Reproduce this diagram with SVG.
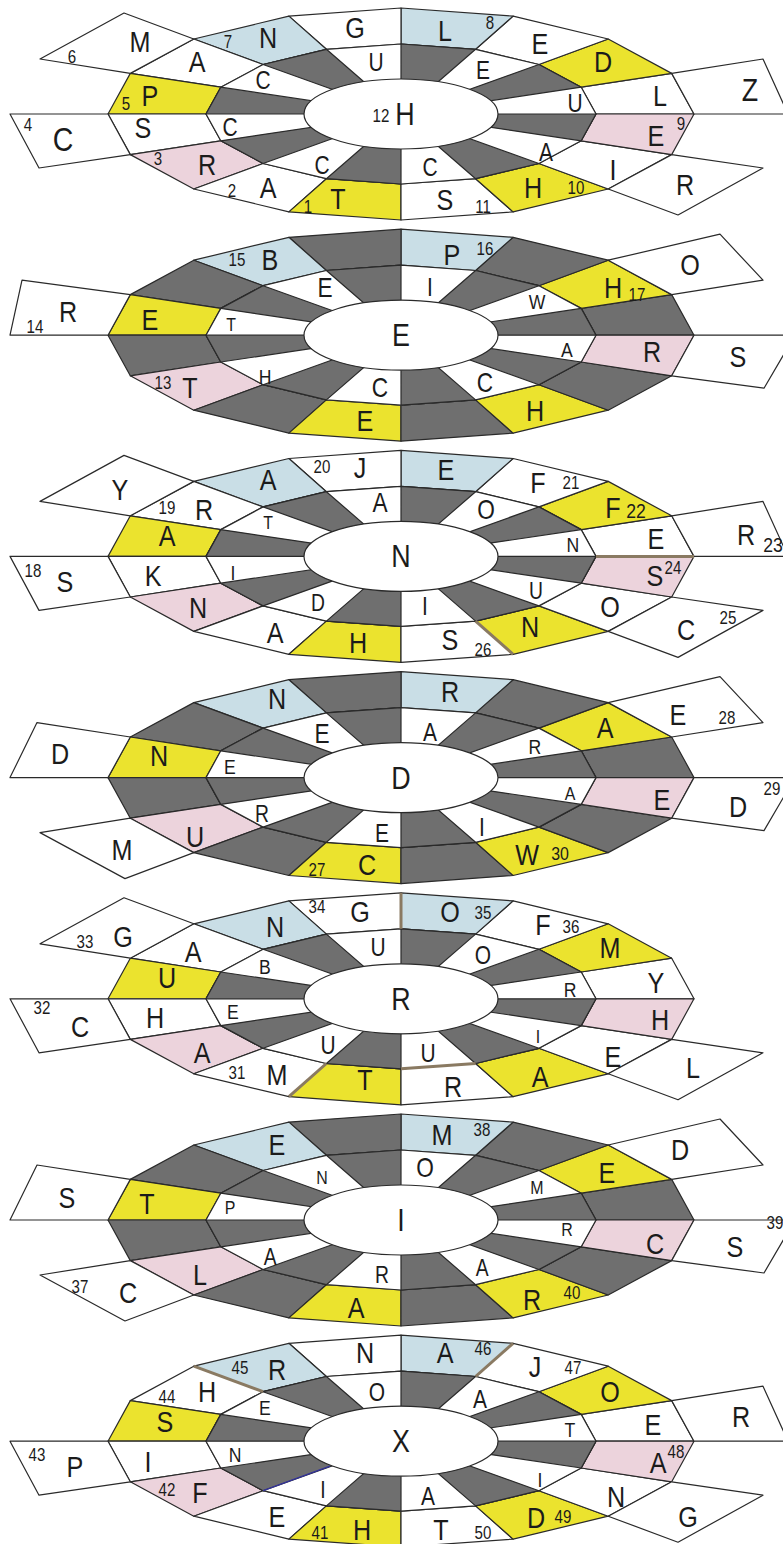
<svg xmlns="http://www.w3.org/2000/svg" xmlns:xlink="http://www.w3.org/1999/xlink" width="783" height="1544" viewBox="0 0 783 1544">
<style>
.w{fill:#ffffff}.g{fill:#6f6f6f}.y{fill:#ebe32e}.b{fill:#c9dee6}.p{fill:#ecd3dc}
.st{stroke:#2a2a2a;stroke-width:1.2;stroke-linejoin:round}
.pt{fill:#ffffff;stroke:#2a2a2a;stroke-width:1.2;stroke-linejoin:round}
.hl{stroke:#8a7a62;stroke-width:3;fill:none}
text{font-family:"Liberation Sans",Arial,sans-serif;fill:#1b1b1b;text-anchor:middle;transform-box:fill-box;transform-origin:center;transform:scaleX(0.84)}
.L{font-size:30px}.I{font-size:25px}.N{font-size:18px}.C{font-size:32px}
</style>
<defs>
<polygon id="q0" points="694,0 671.7,-40.6 581.2,-26.8 596,0"/>
<polygon id="q1" points="671.7,-40.6 608.2,-75 538.9,-49.5 581.2,-26.8"/>
<polygon id="q2" points="608.2,-75 513.1,-97.9 475.6,-64.7 538.9,-49.5"/>
<polygon id="q3" points="513.1,-97.9 401,-106 401,-70 475.6,-64.7"/>
<polygon id="q4" points="401,-106 288.9,-97.9 326.4,-64.7 401,-70"/>
<polygon id="q5" points="288.9,-97.9 193.8,-75 263.1,-49.5 326.4,-64.7"/>
<polygon id="q6" points="193.8,-75 130.3,-40.6 220.8,-26.8 263.1,-49.5"/>
<polygon id="q7" points="130.3,-40.6 108,0 206,0 220.8,-26.8"/>
<polygon id="q8" points="108,0 130.3,40.6 220.8,26.8 206,0"/>
<polygon id="q9" points="130.3,40.6 193.8,75 263.1,49.5 220.8,26.8"/>
<polygon id="q10" points="193.8,75 288.9,97.9 326.4,64.7 263.1,49.5"/>
<polygon id="q11" points="288.9,97.9 401,106 401,70 326.4,64.7"/>
<polygon id="q12" points="401,106 513.1,97.9 475.6,64.7 401,70"/>
<polygon id="q13" points="513.1,97.9 608.2,75 538.9,49.5 475.6,64.7"/>
<polygon id="q14" points="608.2,75 671.7,40.6 581.2,26.8 538.9,49.5"/>
<polygon id="q15" points="671.7,40.6 694,0 596,0 581.2,26.8"/>
<path id="mid" d="M596,0 L581.2,-26.8 L538.9,-49.5 L475.6,-64.7 L401,-70 L326.4,-64.7 L263.1,-49.5 L220.8,-26.8 L206,0 L220.8,26.8 L263.1,49.5 L326.4,64.7 L401,70 L475.6,64.7 L538.9,49.5 L581.2,26.8 Z"/>
<path id="gOdd" d="M401,0 L581.2,-26.8 L538.9,-49.5Z M401,0 L475.6,-64.7 L401,-70Z M401,0 L326.4,-64.7 L263.1,-49.5Z M401,0 L220.8,-26.8 L206,0Z M401,0 L220.8,26.8 L263.1,49.5Z M401,0 L326.4,64.7 L401,70Z M401,0 L475.6,64.7 L538.9,49.5Z M401,0 L581.2,26.8 L596,0Z"/>
<path id="gEven" d="M401,0 L596,0 L581.2,-26.8Z M401,0 L538.9,-49.5 L475.6,-64.7Z M401,0 L401,-70 L326.4,-64.7Z M401,0 L263.1,-49.5 L220.8,-26.8Z M401,0 L206,0 L220.8,26.8Z M401,0 L263.1,49.5 L326.4,64.7Z M401,0 L401,70 L475.6,64.7Z M401,0 L538.9,49.5 L581.2,26.8Z"/>
<ellipse id="hub" cx="401" cy="0" rx="97" ry="35"/>
<g id="wheelA" class="st">
<use href="#q0" class="w"/><use href="#q1" class="y"/><use href="#q2" class="w"/><use href="#q3" class="b"/>
<use href="#q4" class="w"/><use href="#q5" class="b"/><use href="#q6" class="w"/><use href="#q7" class="y"/>
<use href="#q8" class="w"/><use href="#q9" class="p"/><use href="#q10" class="w"/><use href="#q11" class="y"/>
<use href="#q12" class="w"/><use href="#q13" class="y"/><use href="#q14" class="w"/><use href="#q15" class="p"/>
<use href="#mid" class="w"/><use href="#gOdd" class="g"/><use href="#hub" class="w"/>
</g>
<g id="wheelB" class="st">
<use href="#q0" class="g"/><use href="#q1" class="y"/><use href="#q2" class="g"/><use href="#q3" class="b"/>
<use href="#q4" class="g"/><use href="#q5" class="b"/><use href="#q6" class="g"/><use href="#q7" class="y"/>
<use href="#q8" class="g"/><use href="#q9" class="p"/><use href="#q10" class="g"/><use href="#q11" class="y"/>
<use href="#q12" class="g"/><use href="#q13" class="y"/><use href="#q14" class="g"/><use href="#q15" class="p"/>
<use href="#mid" class="w"/><use href="#gEven" class="g"/><use href="#hub" class="w"/>
</g>
<polygon id="pA" points="130.3,-40.6 193.8,-75 124,-101 40,-55"/>
<polygon id="pC" points="108,0 130.3,40.6 39,54 10,0"/>
<polygon id="pZ" points="694,0 671.7,-40.6 763,-55 788,0"/>
<polygon id="pR" points="671.7,40.6 608.2,75 678,101 763,54"/>
<polygon id="pL" points="108,0 130.3,-40.6 37,-55 10,0"/>
<polygon id="pL2" points="108,0 130.3,-40.6 22,-55 10,0"/>
<polygon id="p1" points="608.2,-75 720,-101 763,-55 671.7,-40.6"/>
<polygon id="p15" points="694,0 795,0 764,53 671.7,40.6"/>
<polygon id="p9" points="130.3,40.6 193.8,75 125,101 40,55"/>
</defs>
<rect width="783" height="1544" fill="#ffffff"/>

<g id="wheel1" transform="translate(0,114)">
<use href="#wheelA"/>
<g class="pt"><use href="#pA"/><use href="#pC"/><use href="#pZ"/><use href="#pR"/></g>
<text class="L" x="355" y="-76">G</text>
<text class="L" x="268" y="-66">N</text><text class="N" x="228" y="-66">7</text>
<text class="L" x="197" y="-42">A</text>
<text class="L" x="150" y="-8">P</text><text class="N" x="126" y="-4">5</text>
<text class="L" x="143" y="24">S</text>
<text class="L" x="207" y="61">R</text><text class="N" x="158" y="51">3</text>
<text class="L" x="268" y="84">A</text><text class="N" x="232" y="83">2</text>
<text class="L" x="338" y="95">T</text><text class="N" x="308" y="99">1</text>
<text class="L" x="445" y="96">S</text><text class="N" x="483" y="99">11</text>
<text class="L" x="533" y="84">H</text><text class="N" x="576" y="80">10</text>
<text class="L" x="613" y="66">I</text>
<text class="L" x="656" y="32">E</text><text class="N" x="681" y="16">9</text>
<text class="L" x="660" y="-8">L</text>
<text class="L" x="603" y="-42">D</text>
<text class="L" x="540" y="-60">E</text>
<text class="L" x="445" y="-73">L</text><text class="N" x="490" y="-85">8</text>
<text class="C" x="405" y="11">H</text><text class="N" x="381" y="8">12</text>
<text class="I" x="575" y="-2">U</text>
<text class="I" x="483" y="-35">E</text>
<text class="I" x="376" y="-43">U</text>
<text class="I" x="263" y="-25">C</text>
<text class="I" x="230" y="22">C</text>
<text class="I" x="322" y="60">C</text>
<text class="I" x="430" y="62">C</text>
<text class="I" x="546" y="47">A</text>
<text class="L" x="140" y="-62">M</text><text class="N" x="72" y="-51">6</text>
<text class="L" x="63" y="37" style="font-size:34px">C</text><text class="N" x="28" y="17">4</text>
<text class="L" x="750" y="-13" style="font-size:32px">Z</text>
<text class="L" x="685" y="81">R</text>
</g>

<g id="wheel2" transform="translate(0,335.2)">
<use href="#wheelB"/>
<g class="pt"><use href="#pL2"/><use href="#p1"/><use href="#p15"/></g>
<text class="L" x="270" y="-65">B</text><text class="N" x="237" y="-69">15</text>
<text class="L" x="452" y="-70">P</text><text class="N" x="485" y="-80">16</text>
<text class="L" x="150" y="-5">E</text>
<text class="L" x="190" y="63">T</text><text class="N" x="163" y="54">13</text>
<text class="L" x="365" y="96">E</text>
<text class="L" x="535" y="86">H</text>
<text class="L" x="652" y="27">R</text>
<text class="L" x="613" y="-37">H</text><text class="N" x="637" y="-34">17</text>
<text class="C" x="401" y="11">E</text>
<text class="I" x="537" y="-26" style="font-size:21px">W</text>
<text class="I" x="430" y="-39">I</text>
<text class="I" x="325" y="-38" style="font-size:27px">E</text>
<text class="I" x="231" y="-4" style="font-size:19px">T</text>
<text class="I" x="265" y="49" style="font-size:21px">H</text>
<text class="I" x="380" y="62" style="font-size:27px">C</text>
<text class="I" x="485" y="57" style="font-size:27px">C</text>
<text class="I" x="567" y="22" style="font-size:21px">A</text>
<text class="L" x="68" y="-13">R</text><text class="N" x="35" y="-2">14</text>
<text class="L" x="690" y="-60">O</text>
<text class="L" x="738" y="32">S</text>
</g>

<g id="wheel3" transform="translate(0,556.4)">
<use href="#wheelA"/>
<g class="pt"><use href="#pA"/><use href="#pC"/><use href="#pZ"/><use href="#pR"/></g>
<line class="hl" x1="596" y1="0" x2="694" y2="0"/>
<line class="hl" x1="475.6" y1="64.7" x2="513.1" y2="97.9"/>
<text class="L" x="360" y="-78">J</text><text class="N" x="322" y="-83">20</text>
<text class="L" x="268" y="-66">A</text>
<text class="L" x="204" y="-36">R</text><text class="N" x="167" y="-42">19</text>
<text class="L" x="167" y="-10">A</text>
<text class="L" x="153" y="30">K</text>
<text class="L" x="198" y="62">N</text>
<text class="L" x="275" y="87">A</text>
<text class="L" x="358" y="97">H</text>
<text class="L" x="450" y="94">S</text><text class="N" x="483" y="100">26</text>
<text class="L" x="530" y="81">N</text>
<text class="L" x="610" y="61">O</text>
<text class="L" x="655" y="30">S</text><text class="N" x="673" y="18">24</text>
<text class="L" x="656" y="-7">E</text>
<text class="L" x="613" y="-38">F</text><text class="N" x="636" y="-38" style="font-size:21px">22</text>
<text class="L" x="538" y="-63">F</text><text class="N" x="571" y="-67">21</text>
<text class="L" x="446" y="-76">E</text>
<text class="C" x="401" y="11">N</text>
<text class="I" x="573" y="-4" style="font-size:21px">N</text>
<text class="I" x="486" y="-37" style="font-size:27px">O</text>
<text class="I" x="380" y="-44" style="font-size:27px">A</text>
<text class="I" x="268" y="-27" style="font-size:19px">T</text>
<text class="I" x="233" y="24" style="font-size:21px">I</text>
<text class="I" x="318" y="55" style="font-size:23px">D</text>
<text class="I" x="425" y="59">I</text>
<text class="I" x="536" y="43" style="font-size:23px">U</text>
<text class="L" x="120" y="-56">Y</text>
<text class="L" x="65" y="36">S</text><text class="N" x="33" y="21">18</text>
<text class="L" x="746" y="-11">R</text><text class="N" x="773" y="-4" style="font-size:21px">23</text>
<text class="L" x="686" y="84">C</text><text class="N" x="728" y="68">25</text>
</g>

<g id="wheel4" transform="translate(0,777.6)">
<use href="#wheelB"/>
<g class="pt"><use href="#pL"/><use href="#p1"/><use href="#p15"/><use href="#p9"/></g>
<text class="L" x="277" y="-69">N</text>
<text class="L" x="450" y="-76">R</text>
<text class="L" x="605" y="-40">A</text>
<text class="L" x="662" y="32">E</text>
<text class="L" x="527" y="87">W</text><text class="N" x="560" y="82" style="font-size:19px">30</text>
<text class="L" x="367" y="97">C</text><text class="N" x="317" y="98">27</text>
<text class="L" x="195" y="69">U</text>
<text class="L" x="159" y="-12">N</text>
<text class="C" x="401" y="11">D</text>
<text class="I" x="535" y="-24" style="font-size:21px">R</text>
<text class="I" x="430" y="-37">A</text>
<text class="I" x="322" y="-35" style="font-size:27px">E</text>
<text class="I" x="230" y="-4" style="font-size:21px">E</text>
<text class="I" x="262" y="44" style="font-size:23px">R</text>
<text class="I" x="382" y="64">E</text>
<text class="I" x="482" y="58">I</text>
<text class="I" x="570" y="22" style="font-size:19px">A</text>
<text class="L" x="60" y="-14">D</text>
<text class="L" x="678" y="-53">E</text><text class="N" x="727" y="-54">28</text>
<text class="L" x="738" y="39">D</text><text class="N" x="772" y="17">29</text>
<text class="L" x="122" y="82">M</text>
</g>

<g id="wheel5" transform="translate(0,998.8)">
<use href="#wheelA"/>
<g class="pt"><use href="#pA"/><use href="#pC"/><use href="#pR"/></g>
<line class="hl" x1="401" y1="-106" x2="401" y2="-70"/>
<line class="hl" x1="288.9" y1="97.9" x2="326.4" y2="64.7"/>
<line class="hl" x1="401" y1="70" x2="475.6" y2="64.7"/>
<text class="L" x="360" y="-77">G</text><text class="N" x="317" y="-86">34</text>
<text class="L" x="275" y="-62">N</text>
<text class="L" x="193" y="-37">A</text>
<text class="L" x="167" y="-11">U</text>
<text class="L" x="155" y="29">H</text>
<text class="L" x="202" y="64">A</text>
<text class="L" x="277" y="86">M</text><text class="N" x="237" y="80">31</text>
<text class="L" x="365" y="91">T</text>
<text class="L" x="453" y="98">R</text>
<text class="L" x="540" y="88">A</text>
<text class="L" x="613" y="68">E</text>
<text class="L" x="660" y="31">H</text>
<text class="L" x="656" y="-6">Y</text>
<text class="L" x="610" y="-41">M</text>
<text class="L" x="543" y="-64">F</text><text class="N" x="571" y="-66">36</text>
<text class="L" x="450" y="-77">O</text><text class="N" x="483" y="-80">35</text>
<text class="C" x="401" y="11">R</text>
<text class="I" x="570" y="-2" style="font-size:21px">R</text>
<text class="I" x="483" y="-35">O</text>
<text class="I" x="378" y="-43">U</text>
<text class="I" x="265" y="-25" style="font-size:21px">B</text>
<text class="I" x="233" y="20" style="font-size:21px">E</text>
<text class="I" x="328" y="55">U</text>
<text class="I" x="428" y="63">U</text>
<text class="I" x="538" y="44" style="font-size:19px">I</text>
<text class="L" x="123" y="-52">G</text><text class="N" x="85" y="-51">33</text>
<text class="L" x="80" y="38">C</text><text class="N" x="42" y="15">32</text>
<text class="L" x="693" y="79">L</text>
</g>

<g id="wheel6" transform="translate(0,1220)">
<use href="#wheelB"/>
<g class="pt"><use href="#pL"/><use href="#p1"/><use href="#p15"/><use href="#p9"/></g>
<text class="L" x="277" y="-65">E</text>
<text class="L" x="442" y="-75">M</text><text class="N" x="482" y="-84">38</text>
<text class="L" x="607" y="-37">E</text>
<text class="L" x="655" y="34">C</text>
<text class="L" x="532" y="90">R</text><text class="N" x="572" y="79">40</text>
<text class="L" x="356" y="98">A</text>
<text class="L" x="200" y="65">L</text>
<text class="L" x="147" y="-6">T</text>
<text class="C" x="401" y="11">I</text>
<text class="I" x="537" y="-26" style="font-size:19px">M</text>
<text class="I" x="425" y="-43" style="font-size:27px">O</text>
<text class="I" x="322" y="-36" style="font-size:19px">N</text>
<text class="I" x="230" y="-6" style="font-size:19px">P</text>
<text class="I" x="270" y="45" style="font-size:23px">A</text>
<text class="I" x="382" y="63" style="font-size:23px">R</text>
<text class="I" x="482" y="56" style="font-size:23px">A</text>
<text class="I" x="567" y="16" style="font-size:19px">R</text>
<text class="L" x="67" y="-12">S</text>
<text class="L" x="680" y="-60">D</text>
<text class="L" x="735" y="37">S</text><text class="N" x="775" y="9">39</text>
<text class="L" x="128" y="83">C</text><text class="N" x="80" y="73">37</text>
</g>

<g id="wheel7" transform="translate(0,1441.2)">
<use href="#wheelA"/>
<g class="pt"><use href="#pC"/><use href="#pZ"/><use href="#pR"/></g>
<line class="hl" x1="193.8" y1="-75" x2="263.1" y2="-49.5"/>
<line class="hl" x1="475.6" y1="-64.7" x2="513.1" y2="-97.9"/>
<line x1="263.1" y1="49.5" x2="330" y2="25" stroke="#33339a" stroke-width="1.4"/>
<text class="L" x="365" y="-78">N</text>
<text class="L" x="277" y="-61">R</text><text class="N" x="240" y="-67">45</text>
<text class="L" x="207" y="-39">H</text><text class="N" x="167" y="-38">44</text>
<text class="L" x="165" y="-9">S</text>
<text class="L" x="148" y="31">I</text>
<text class="L" x="200" y="62">F</text><text class="N" x="167" y="55">42</text>
<text class="L" x="277" y="86">E</text>
<text class="L" x="362" y="99">H</text><text class="N" x="320" y="98">41</text>
<text class="L" x="441" y="99">T</text><text class="N" x="483" y="98">50</text>
<text class="L" x="536" y="87">D</text><text class="N" x="563" y="82">49</text>
<text class="L" x="616" y="66">N</text>
<text class="L" x="658" y="32">A</text><text class="N" x="676" y="17">48</text>
<text class="L" x="653" y="-6">E</text>
<text class="L" x="610" y="-39">O</text>
<text class="L" x="535" y="-64">J</text><text class="N" x="573" y="-67">47</text>
<text class="L" x="445" y="-78">A</text><text class="N" x="483" y="-86">46</text>
<text class="C" x="401" y="11">X</text>
<text class="I" x="570" y="-4" style="font-size:21px">T</text>
<text class="I" x="480" y="-33">A</text>
<text class="I" x="377" y="-40">O</text>
<text class="I" x="265" y="-26" style="font-size:21px">E</text>
<text class="I" x="235" y="21" style="font-size:21px">N</text>
<text class="I" x="323" y="57" style="font-size:23px">I</text>
<text class="I" x="428" y="64">A</text>
<text class="I" x="540" y="46" style="font-size:21px">I</text>
<text class="L" x="75" y="36">P</text><text class="N" x="37" y="20">43</text>
<text class="L" x="741" y="-14">R</text>
<text class="L" x="688" y="86">G</text>
</g>
</svg>
